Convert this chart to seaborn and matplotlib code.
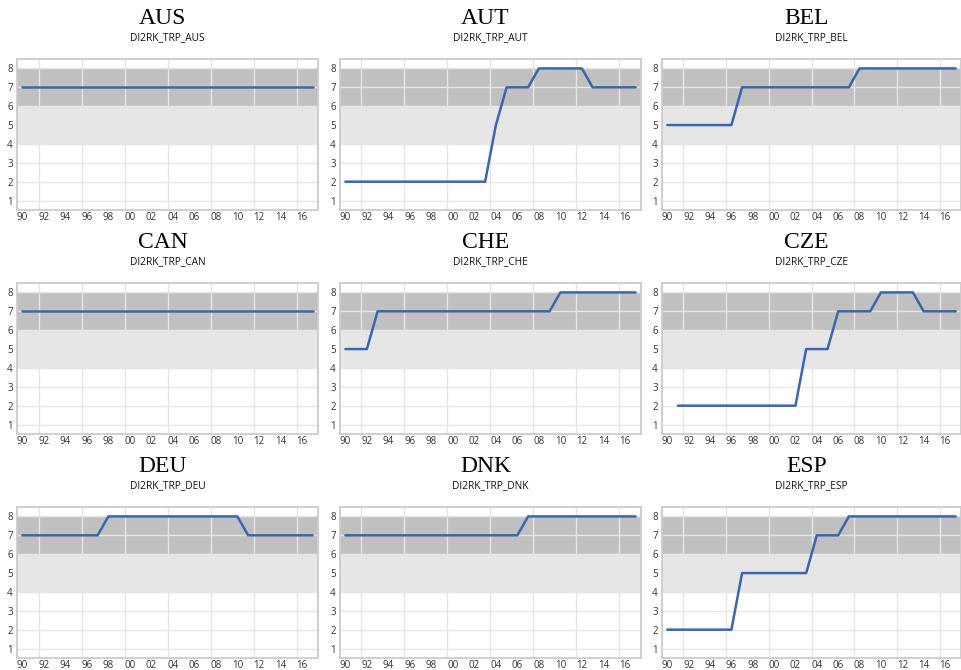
import numpy as np
import pandas as pd
import matplotlib
matplotlib.use("Agg")
import matplotlib.pyplot as plt
import seaborn as sns

years = list(range(1990, 2018))
countries = ["AUS", "AUT", "BEL", "CAN", "CHE", "CZE", "DEU", "DNK", "ESP"]
nan = np.nan
AUS = [7, 7, 7, 7, 7, 7, 7, 7, 7, 7, 7, 7, 7, 7, 7, 7, 7, 7, 7, 7, 7, 7, 7, 7, 7, 7, 7, 7]
AUT = [2, 2, 2, 2, 2, 2, 2, 2, 2, 2, 2, 2, 2, 2, 5, 7, 7, 7, 8, 8, 8, 8, 8, 7, 7, 7, 7, 7]
BEL = [5, 5, 5, 5, 5, 5, 5, 7, 7, 7, 7, 7, 7, 7, 7, 7, 7, 7, 8, 8, 8, 8, 8, 8, 8, 8, 8, 8]
CAN = [7, 7, 7, 7, 7, 7, 7, 7, 7, 7, 7, 7, 7, 7, 7, 7, 7, 7, 7, 7, 7, 7, 7, 7, 7, 7, 7, 7]
CHE = [5, 5, 5, 7, 7, 7, 7, 7, 7, 7, 7, 7, 7, 7, 7, 7, 7, 7, 7, 7, 8, 8, 8, 8, 8, 8, 8, 8]
CZE = [nan, 2, 2, 2, 2, 2, 2, 2, 2, 2, 2, 2, 2, 5, 5, 5, 7, 7, 7, 7, 8, 8, 8, 8, 7, 7, 7, 7]
DEU = [7, 7, 7, 7, 7, 7, 7, 7, 8, 8, 8, 8, 8, 8, 8, 8, 8, 8, 8, 8, 8, 7, 7, 7, 7, 7, 7, 7]
DNK = [7, 7, 7, 7, 7, 7, 7, 7, 7, 7, 7, 7, 7, 7, 7, 7, 7, 8, 8, 8, 8, 8, 8, 8, 8, 8, 8, 8]
ESP = [2, 2, 2, 2, 2, 2, 2, 5, 5, 5, 5, 5, 5, 5, 7, 7, 7, 8, 8, 8, 8, 8, 8, 8, 8, 8, 8, 8]
series = dict(AUS=AUS, AUT=AUT, BEL=BEL, CAN=CAN, CHE=CHE, CZE=CZE, DEU=DEU, DNK=DNK, ESP=ESP)

xtick_years = list(range(1990, 2017, 2))
xtick_labels = ["90", "92", "94", "96", "98", "00", "02", "04", "06", "08", "10", "12", "14", "16"]
ytick_values = [1, 2, 3, 4, 5, 6, 7, 8]
dark_band = (6, 8)
light_band = (4, 6)

sns.set_theme(style="white")
plt.rcParams["font.family"] = ["Open Sans", "DejaVu Sans"]

W, H = 962, 670
fig = plt.figure(figsize=(W / 100, H / 100), dpi=100)

lefts = [17, 340, 662]
widths = [301, 301, 299]
tops = [59, 283, 507]
ax_h = 151

line_color = "#3a66b1"
grid_color = "#e6e6e6"

for i, c in enumerate(countries):
    r, col = divmod(i, 3)
    l, w, t = lefts[col], widths[col], tops[r]
    ax = fig.add_axes([l / W, 1 - (t + ax_h) / H, w / W, ax_h / H])
    ax.set_xlim(1989.5, 2017.5)
    ax.set_ylim(0.5, 8.5)
    ax.axhspan(light_band[0], light_band[1], color="#e6e6e6", lw=0, zorder=0)
    ax.axhspan(dark_band[0], dark_band[1], color="#c0c0c0", lw=0, zorder=0)
    for yv in ytick_values:
        ax.axhline(yv, color=grid_color, lw=1.0, zorder=1)
    for xv in np.arange(1991.5, 2017, 4):
        ax.axvline(xv, color=grid_color, lw=1.0, zorder=1)
    df = pd.DataFrame({"year": years, "value": series[c]})
    sns.lineplot(data=df, x="year", y="value", ax=ax, color=line_color,
                 lw=1.8, zorder=3)
    ax.set_xlabel("")
    ax.set_ylabel("")
    ax.set_xticks(xtick_years)
    ax.set_xticklabels(xtick_labels)
    ax.set_yticks(ytick_values)
    ax.tick_params(axis="y", length=0, labelsize=7, colors="#333333", pad=3)
    ax.tick_params(axis="x", length=0, labelsize=7, colors="#333333", pad=1.5)
    for s in ax.spines.values():
        s.set_color("#cccccc")
        s.set_linewidth(1.3)
    cx = (l + w / 2) / W
    fig.text(cx - 5 / W, 1 - (t - 40) / H, c, ha="center", va="center",
             fontsize=17, family=["Liberation Serif", "DejaVu Serif"], color="#000000")
    fig.text(cx, 1 - (t - 21) / H, "DI2RK_TRP_" + c, ha="center", va="center",
             fontsize=7.3, color="#111111")

fig.savefig("out.png", dpi=100, facecolor="white")
